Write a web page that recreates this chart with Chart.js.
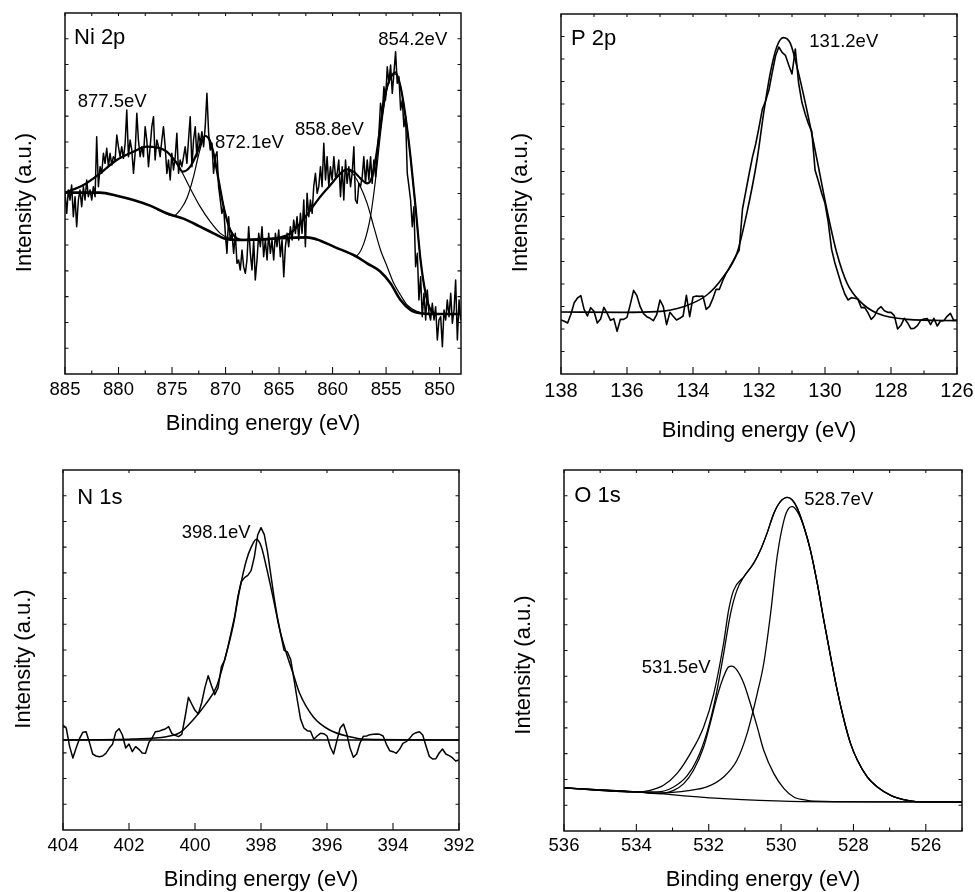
<!DOCTYPE html>
<html>
<head>
<meta charset="utf-8">
<script src="https://cdn.jsdelivr.net/npm/chart.js@4.4.1/dist/chart.umd.min.js"></script>
<style>
  html, body { margin: 0; padding: 0; background: #fff; }
  #wrap { position: relative; width: 975px; height: 892px; background: #fff; }
  #wrap canvas { position: absolute; }
</style>
</head>
<body>
<div id="wrap">
  <canvas id="ni2p" width="487" height="452" style="left:0;top:0"></canvas>
  <canvas id="p2p" width="488" height="452" style="left:487px;top:0"></canvas>
  <canvas id="n1s" width="487" height="452" style="left:0;top:440px"></canvas>
  <canvas id="o1s" width="488" height="452" style="left:487px;top:440px"></canvas>
</div>
<script>
// ---------------- Ni 2p ----------------
const niEnergy = [
  885.00,884.84,884.69,884.53,884.38,884.22,884.06,883.91,883.75,883.60,
  883.44,883.28,883.13,882.97,882.82,882.66,882.50,882.35,882.19,882.04,
  881.88,881.72,881.57,881.41,881.26,881.10,880.94,880.79,880.63,880.48,
  880.32,880.16,880.01,879.85,879.70,879.54,879.38,879.23,879.07,878.92,
  878.76,878.60,878.45,878.29,878.14,877.98,877.82,877.67,877.51,877.36,
  877.20,877.04,876.89,876.73,876.58,876.42,876.26,876.11,875.95,875.80,
  875.64,875.48,875.33,875.17,875.02,874.86,874.70,874.55,874.39,874.24,
  874.08,873.92,873.77,873.61,873.46,873.30,873.14,872.99,872.83,872.68,
  872.52,872.36,872.21,872.05,871.90,871.74,871.58,871.43,871.27,871.12,
  870.96,870.80,870.65,870.49,870.34,870.18,870.02,869.87,869.71,869.56,
  869.40,869.24,869.09,868.93,868.78,868.62,868.46,868.31,868.15,868.00,
  867.84,867.68,867.53,867.37,867.22,867.06,866.90,866.75,866.59,866.44,
  866.28,866.12,865.97,865.81,865.66,865.50,865.34,865.19,865.03,864.88,
  864.72,864.56,864.41,864.25,864.10,863.94,863.78,863.63,863.47,863.32,
  863.16,863.00,862.85,862.69,862.54,862.38,862.22,862.07,861.91,861.76,
  861.60,861.44,861.29,861.13,860.98,860.82,860.66,860.51,860.35,860.20,
  860.04,859.88,859.73,859.57,859.42,859.26,859.10,858.95,858.79,858.64,
  858.48,858.32,858.17,858.01,857.86,857.70,857.54,857.39,857.23,857.08,
  856.92,856.76,856.61,856.45,856.30,856.14,855.98,855.83,855.67,855.52,
  855.36,855.20,855.05,854.89,854.74,854.58,854.42,854.27,854.11,853.96,
  853.80,853.64,853.49,853.33,853.18,853.02,852.86,852.71,852.55,852.40,
  852.24,852.08,851.93,851.77,851.62,851.46,851.30,851.15,850.99,850.84,
  850.68,850.52,850.37,850.21,850.06,849.90,849.74,849.59,849.43,849.28,
  849.12,848.96,848.81,848.65,848.50,848.34,848.18,848.03
];
const niCounts = [
  544,482,552,522,567,472,532,442,522,552,
  502,562,522,582,532,552,522,562,532,712,
  562,622,602,662,632,677,622,662,627,652,
  642,717,682,652,682,647,692,792,652,702,
  672,602,662,782,702,652,682,652,742,702,
  622,682,742,772,642,702,682,652,702,742,
  682,602,642,582,662,612,652,722,602,642,
  622,652,682,632,702,772,622,702,742,652,
  722,692,727,682,742,842,722,672,692,602,
  652,667,562,522,482,502,422,362,472,402,
  422,362,422,332,342,312,372,322,302,342,
  442,362,312,402,282,342,422,382,442,352,
  402,342,422,362,402,342,422,382,432,352,
  402,292,382,422,382,442,402,462,422,472,
  402,482,422,522,382,542,472,522,482,562,
  602,542,562,622,562,692,582,652,562,622,
  582,652,592,602,642,532,622,522,642,572,
  622,562,602,682,522,512,572,562,592,652,
  572,642,582,652,572,642,592,662,722,812,
  782,862,822,922,872,927,842,902,967,872,
  892,792,822,742,772,602,562,522,442,502,
  322,362,222,292,172,242,162,252,182,162,
  212,162,202,102,162,172,82,192,162,222,
  172,242,152,192,282,102,222,162
];
// Shirley-type background
const niBgEnergy = [885.0,881.72,880.17,878.61,877.05,875.49,873.93,872.37,871.12,869.87,868.62,866.13,862.39,861.14,859.89,857.86,856.77,855.52,854.59,853.65,852.72,851.78,850.53,848.0];
const niBgCounts = [544,544,535,522,505,482,466,442,422,404,402,405,410,400,382,354,332,307,272,222,192,182,180,180];
// fitted envelope
const niEnvEnergy = [885.0,883.28,881.72,880.17,878.61,877.36,876.42,875.49,874.55,873.99,873.30,872.68,872.21,871.90,871.49,871.12,870.65,870.18,869.56,868.94,868.31,866.13,864.88,863.95,863.01,862.07,861.14,860.20,859.27,858.64,858.02,857.40,856.77,856.30,855.84,855.37,854.90,854.43,854.12,853.65,853.18,852.72,852.25,851.78,851.31,850.84,850.22,848.0];
const niEnvCounts = [544,567,602,642,667,682,680,667,632,607,622,662,702,714,702,662,582,502,432,407,402,404,410,422,452,492,532,567,602,614,607,587,572,592,672,782,862,897,905,862,772,652,502,342,242,192,180,180];
// fitted components
const ni877Energy = [885.0,883.28,881.72,880.17,878.61,877.36,876.42,875.49,874.55,873.93,873.30,872.37,871.43,870.49,869.56,868.62,866.13];
const ni877Counts = [544,567,602,642,667,682,680,667,632,597,557,502,457,422,406,402,404];
const ni872Energy = [876.42,874.86,874.24,873.61,872.99,872.52,872.12,871.90,871.49,871.12,870.65,870.18,869.56,868.94,868.31,866.13];
const ni872Counts = [494,474,492,527,592,657,702,714,702,662,582,502,432,407,402,404];
const ni858Energy = [864.57,863.95,863.01,862.07,861.14,860.20,859.27,858.64,858.02,857.40,856.77,856.15,855.52,854.90,854.28,853.65,853.03,852.09,850.84,848.0];
const ni858Counts = [410,422,452,492,532,567,602,614,597,562,512,442,372,322,272,237,207,187,180,180];
const ni854Energy = [858.64,857.86,857.08,856.46,855.99,855.52,855.06,854.59,854.18,853.65,853.18,852.72,852.25,851.78,851.31,850.84,850.22,848.0];
const ni854Counts = [365,354,392,472,582,722,832,892,900,862,772,652,502,342,242,192,180,180];
const niTicks = [885,880,875,870,865,860,855,850];
const niMinorTicks = [882.5,877.5,872.5,867.5,862.5,857.5,852.5];

// ---------------- P 2p ----------------
const pEnergy = [
  138.0,137.9,137.8,137.7,137.6,137.5,137.4,137.3,137.2,137.1,
  137.0,136.9,136.8,136.7,136.6,136.5,136.4,136.3,136.2,136.1,
  136.0,135.9,135.8,135.7,135.6,135.5,135.4,135.3,135.2,135.1,
  135.0,134.9,134.8,134.7,134.6,134.5,134.4,134.3,134.2,134.1,
  134.0,133.9,133.8,133.7,133.6,133.5,133.4,133.3,133.2,133.1,
  133.0,132.9,132.8,132.7,132.6,132.5,132.4,132.3,132.2,132.1,
  132.0,131.9,131.8,131.7,131.6,131.5,131.4,131.3,131.2,131.1,
  131.0,130.9,130.8,130.7,130.6,130.5,130.4,130.3,130.2,130.1,
  130.0,129.9,129.8,129.7,129.6,129.5,129.4,129.3,129.2,129.1,
  129.0,128.9,128.8,128.7,128.6,128.5,128.4,128.3,128.2,128.1,
  128.0,127.9,127.8,127.7,127.6,127.5,127.4,127.3,127.2,127.1,
  127.0,126.9,126.8,126.7,126.6,126.5,126.4,126.3,126.2,126.1,
  126.0
];
const pCounts = [
  162,158,153,179,214,228,235,194,174,199,
  188,153,165,200,182,161,166,128,164,164,
  170,209,251,235,202,181,172,167,160,178,
  222,202,148,185,173,162,167,174,236,172,
  231,234,233,234,194,203,226,254,254,280,
  301,318,336,354,372,495,548,600,650,690,
  740,794,819,852,904,954,981,965,956,927,
  900,975,873,815,780,750,728,611,578,542,
  512,454,374,333,300,268,240,222,229,227,
  224,199,200,184,164,174,194,202,190,185,
  185,175,135,146,167,154,136,137,145,161,
  165,166,148,167,144,159,160,173,182,161,
  162
];
const pFitEnergy = [138.00,136.11,135.10,134.29,133.58,133.08,132.67,132.37,132.06,131.86,131.66,131.46,131.26,131.05,130.85,130.55,130.24,129.94,129.64,129.33,128.93,128.42,127.51,126.00];
const pFitCounts = [186,185,187,202,237,292,362,482,642,782,902,982,1009,992,922,792,642,492,362,272,217,182,164,160];
const pTicks = [138,136,134,132,130,128,126];
const pMinorTicks = [137,135,133,131,129,127];

// ---------------- N 1s ----------------
const nEnergy = [
  404.0,403.9,403.8,403.7,403.6,403.5,403.4,403.3,403.2,403.1,
  403.0,402.9,402.8,402.7,402.6,402.5,402.4,402.3,402.2,402.1,
  402.0,401.9,401.8,401.7,401.6,401.5,401.4,401.3,401.2,401.1,
  401.0,400.9,400.8,400.7,400.6,400.5,400.4,400.3,400.2,400.1,
  400.0,399.9,399.8,399.7,399.6,399.5,399.4,399.3,399.2,399.1,
  399.0,398.9,398.8,398.7,398.6,398.5,398.4,398.3,398.2,398.1,
  398.0,397.9,397.8,397.7,397.6,397.5,397.4,397.3,397.2,397.1,
  397.0,396.9,396.8,396.7,396.6,396.5,396.4,396.3,396.2,396.1,
  396.0,395.9,395.8,395.7,395.6,395.5,395.4,395.3,395.2,395.1,
  395.0,394.9,394.8,394.7,394.6,394.5,394.4,394.3,394.2,394.1,
  394.0,393.9,393.8,393.7,393.6,393.5,393.4,393.3,393.2,393.1,
  393.0,392.9,392.8,392.7,392.6,392.5,392.4,392.3,392.2,392.1,
  392.0
];
const nCounts = [
  315,305,251,216,247,274,293,295,263,228,
  222,220,222,230,245,257,294,304,285,246,
  258,235,250,242,231,230,262,276,295,296,
  300,303,310,289,284,280,287,339,398,378,
  359,348,381,427,463,433,406,427,490,510,
  550,595,639,701,744,757,764,778,820,885,
  907,886,833,764,695,636,586,539,534,511,
  452,390,332,306,298,296,272,282,290,289,
  282,249,228,268,306,318,288,245,218,228,
  261,281,282,286,287,288,287,282,257,238,
  235,230,242,260,265,274,287,292,295,285,
  252,221,213,214,231,243,228,223,217,207,
  210
];
const nFitEnergy = [404.00,401.88,400.87,400.46,400.06,399.66,399.35,399.05,398.85,398.65,398.44,398.29,398.14,397.99,397.84,397.64,397.43,397.23,397.03,396.83,396.42,395.92,395.31,394.81,392.00];
const nFitCounts = [270,273,280,292,330,380,430,530,610,720,810,850,872,850,790,700,600,530,470,410,340,300,280,272,270];
const nBaseEnergy = [404.0, 392.0];
const nBaseCounts = [270, 270];
const nTicks = [404,402,400,398,396,394,392];
const nMinorTicks = [];

// ---------------- O 1s ----------------
const oMeasEnergy = [536.00,533.99,533.62,533.25,532.88,532.51,532.14,531.86,531.59,531.45,531.31,531.03,530.76,530.57,530.39,530.20,530.02,529.83,529.69,529.55,529.37,529.19,529.00,528.82,528.63,528.45,528.26,528.08,527.89,527.62,527.34,526.97,526.51,526.05,525.00];
const oMeasCounts = [129,117,122,137,172,232,312,412,562,662,722,762,802,842,892,952,987,1000,992,967,912,842,742,632,522,422,332,262,212,162,132,107,92,87,87];
const oSumEnergy = [536.00,533.99,533.43,532.97,532.60,532.32,532.05,531.82,531.59,531.40,531.22,531.03,530.76,530.57,530.39,530.20,530.02,529.83,529.69,529.55,529.37,529.19,529.00,528.82,528.63,528.45,528.26,528.08,527.89,527.62,527.34,526.97,526.51,526.05,525.00];
const oSumCounts = [129,117,117,132,165,215,295,395,530,650,722,762,802,842,892,952,987,1000,992,967,912,842,742,632,522,422,332,262,212,162,132,107,92,87,87];
const o531Energy = [536.00,533.99,533.43,532.97,532.69,532.42,532.14,531.96,531.77,531.59,531.45,531.36,531.22,531.03,530.85,530.66,530.48,530.20,529.92,529.65,529.28,528.82,525.00];
const o531Counts = [129,117,112,122,142,182,252,322,402,462,492,494,482,442,382,312,242,172,127,102,92,89,87];
const o528Energy = [536.00,533.99,533.43,532.51,532.05,531.59,531.22,530.94,530.66,530.48,530.29,530.11,529.92,529.79,529.69,529.55,529.37,529.19,529.00,528.82,528.63,528.45,528.26,528.08,527.89,527.62,527.34,526.97,526.51,526.05,525.00];
const o528Counts = [129,117,114,122,132,162,212,292,412,502,652,822,932,967,972,957,912,842,742,632,522,422,332,262,212,162,132,107,92,87,87];
const oBgEnergy = [536.00,533.99,531.59,529.74,526.05,525.00];
const oBgCounts = [129,117,97,89,87,87];
const oTicks = [536,534,532,530,528,526];
const oMinorTicks = [535,533,531,529,527,525];

// ---------------- drawing ----------------
const FONT = '"Liberation Sans", Arial, Helvetica, sans-serif';
const pts = (xs, ys) => xs.map((x, i) => ({ x, y: ys[i] }));

function line(xs, ys, width, smooth) {
  return {
    data: pts(xs, ys),
    borderColor: '#000',
    borderWidth: width,
    pointRadius: 0,
    fill: false,
    tension: 0,
    cubicInterpolationMode: smooth ? 'monotone' : 'default',
    borderJoinStyle: 'round'
  };
}

// box frame with inward ticks, axis titles and peak labels
const framePlugin = {
  id: 'frame',
  afterDraw(chart, args, o) {
    const { ctx, chartArea: a } = chart;
    const xs = chart.scales.x, ys = chart.scales.y;
    ctx.save();
    ctx.strokeStyle = '#111';
    ctx.lineWidth = 1.1;
    ctx.beginPath();
    for (const v of o.majors) {
      const px = xs.getPixelForValue(v);
      ctx.moveTo(px, a.bottom); ctx.lineTo(px, a.bottom - 7);
      ctx.moveTo(px, a.top); ctx.lineTo(px, a.top + 3);
    }
    for (const v of o.minors) {
      const px = xs.getPixelForValue(v);
      ctx.moveTo(px, a.bottom); ctx.lineTo(px, a.bottom - 3.5);
      ctx.moveTo(px, a.top); ctx.lineTo(px, a.top + 3);
    }
    for (let i = 1; i < o.ySteps; i++) {
      const py = ys.getPixelForValue(ys.min + (ys.max - ys.min) * i / o.ySteps);
      ctx.moveTo(a.left, py); ctx.lineTo(a.left + 3.5, py);
      ctx.moveTo(a.right, py); ctx.lineTo(a.right - 3.5, py);
    }
    ctx.stroke();
    ctx.lineWidth = 1.5;
    ctx.strokeRect(a.left, a.top, a.right - a.left, a.bottom - a.top);

    ctx.fillStyle = '#000';
    ctx.textBaseline = 'alphabetic';
    ctx.textAlign = 'left';
    for (const t of o.labels) {
      ctx.font = t.size + 'px ' + FONT;
      ctx.fillText(t.text, a.left + t.dx, a.top + t.dy);
    }
    ctx.font = '22px ' + FONT;
    ctx.textAlign = 'center';
    ctx.fillText('Binding energy (eV)', (a.left + a.right) / 2, a.bottom + o.xTitleDy);
    ctx.save();
    ctx.translate(a.left + o.yTitleDx, (a.top + a.bottom) / 2 + o.yTitleDy);
    ctx.rotate(-Math.PI / 2);
    ctx.fillText('Intensity (a.u.)', 0, 0);
    ctx.restore();
    ctx.restore();
  }
};

function makePanel(id, cfg) {
  return new Chart(document.getElementById(id), {
    type: 'line',
    data: { datasets: cfg.datasets },
    plugins: [framePlugin],
    options: {
      responsive: false,
      animation: false,
      devicePixelRatio: 1,
      events: [],
      layout: { padding: { left: 0, top: cfg.padTop, right: cfg.padRight, bottom: 0 } },
      plugins: {
        legend: { display: false },
        tooltip: { enabled: false },
        frame: cfg.frame
      },
      scales: {
        x: {
          type: 'linear',
          reverse: true,
          min: cfg.xMin,
          max: cfg.xMax,
          grid: { display: false, drawTicks: false },
          border: { display: false },
          afterBuildTicks: s => { s.ticks = cfg.frame.majors.map(v => ({ value: v })); },
          ticks: {
            color: '#000',
            font: { family: FONT, size: cfg.tickSize, lineHeight: 1.2 },
            padding: cfg.tickPad,
            maxRotation: 0,
            autoSkip: false
          },
          afterFit: s => { s.height = cfg.xHeight; s.paddingLeft = 0; s.paddingRight = 0; }
        },
        y: {
          type: 'linear',
          min: 0,
          max: cfg.yMax,
          grid: { display: false, drawTicks: false },
          border: { display: false },
          ticks: { display: false },
          afterFit: s => { s.width = cfg.yWidth; s.paddingTop = 0; s.paddingBottom = 0; }
        }
      }
    }
  });
}

makePanel('ni2p', {
  padTop: 13, padRight: 26, yWidth: 65, xHeight: 78,
  xMin: 848, xMax: 885, yMax: 1083, tickSize: 18.5, tickPad: 5,
  datasets: [
    line(niEnergy, niCounts, 1.5, false),
    line(niBgEnergy, niBgCounts, 2.6, true),
    line(niEnvEnergy, niEnvCounts, 2.2, true),
    line(ni877Energy, ni877Counts, 1.2, true),
    line(ni872Energy, ni872Counts, 1.2, true),
    line(ni858Energy, ni858Counts, 1.2, true),
    line(ni854Energy, ni854Counts, 1.2, true)
  ],
  frame: {
    majors: niTicks, minors: niMinorTicks, ySteps: 14,
    xTitleDy: 56, yTitleDx: -34, yTitleDy: 9,
    labels: [
      { text: 'Ni 2p', size: 22, dx: 9, dy: 30.5 },
      { text: '877.5eV', size: 18.5, dx: 12.7, dy: 94 },
      { text: '872.1eV', size: 18.5, dx: 150, dy: 135 },
      { text: '858.8eV', size: 18.5, dx: 230, dy: 122 },
      { text: '854.2eV', size: 18.5, dx: 313.3, dy: 32 }
    ]
  }
});

makePanel('p2p', {
  padTop: 14, padRight: 18, yWidth: 74, xHeight: 78,
  xMin: 126, xMax: 138, yMax: 1080, tickSize: 20, tickPad: 5,
  datasets: [
    line(pEnergy, pCounts, 1.6, false),
    line(pFitEnergy, pFitCounts, 1.6, true)
  ],
  frame: {
    majors: pTicks, minors: pMinorTicks, ySteps: 16,
    xTitleDy: 63, yTitleDx: -34, yTitleDy: 8.5,
    labels: [
      { text: 'P 2p', size: 22, dx: 10, dy: 31 },
      { text: '131.2eV', size: 18.5, dx: 248.3, dy: 32.7 }
    ]
  }
});

makePanel('n1s', {
  padTop: 30, padRight: 28, yWidth: 63, xHeight: 62,
  xMin: 392, xMax: 404, yMax: 1080, tickSize: 18.5, tickPad: 5,
  datasets: [
    line(nEnergy, nCounts, 1.5, false),
    line(nBaseEnergy, nBaseCounts, 1.5, false),
    line(nFitEnergy, nFitCounts, 1.5, true)
  ],
  frame: {
    majors: nTicks, minors: nMinorTicks, ySteps: 14,
    xTitleDy: 55.7, yTitleDx: -33.5, yTitleDy: 9,
    labels: [
      { text: 'N 1s', size: 22, dx: 14.3, dy: 34 },
      { text: '398.1eV', size: 18.5, dx: 118.7, dy: 68.3 }
    ]
  }
});

makePanel('o1s', {
  padTop: 30, padRight: 13, yWidth: 77, xHeight: 61,
  xMin: 525, xMax: 536, yMax: 1082, tickSize: 18.5, tickPad: 4,
  datasets: [
    line(oBgEnergy, oBgCounts, 1.3, true),
    line(o531Energy, o531Counts, 1.3, true),
    line(o528Energy, o528Counts, 1.3, true),
    line(oSumEnergy, oSumCounts, 1.3, true),
    line(oMeasEnergy, oMeasCounts, 1.3, true)
  ],
  frame: {
    majors: oTicks, minors: oMinorTicks, ySteps: 14,
    xTitleDy: 55, yTitleDx: -34, yTitleDy: 14.5,
    labels: [
      { text: 'O 1s', size: 22, dx: 10.3, dy: 32.3 },
      { text: '528.7eV', size: 18.5, dx: 240.3, dy: 35 },
      { text: '531.5eV', size: 18.5, dx: 77.7, dy: 203.3 }
    ]
  }
});
</script>
</body>
</html>
